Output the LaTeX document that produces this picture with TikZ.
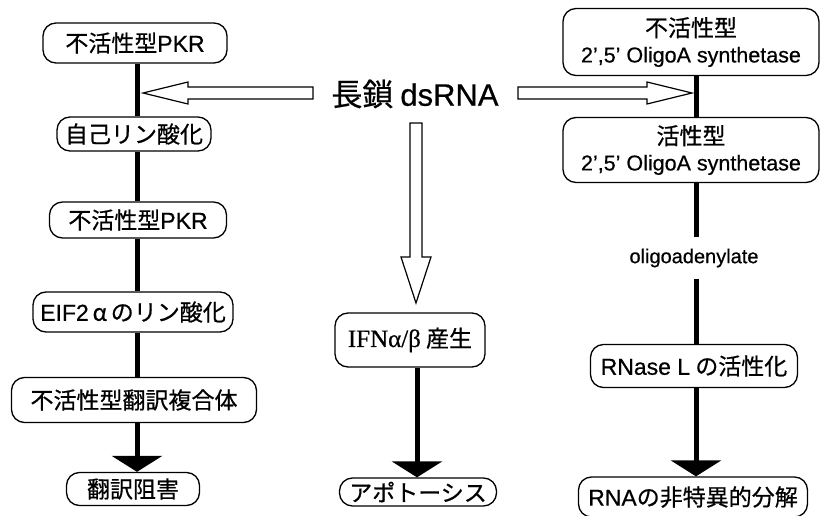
\documentclass[tikz,border=0pt]{standalone}
\usepackage{fontspec}
\setmainfont{Noto Sans CJK JP}[FakeBold=0.6]
\newfontfamily\serifgr{Liberation Serif}[FakeBold=0.6]
\newfontfamily\lat{Liberation Sans}[FakeBold=0.6]
\usetikzlibrary{arrows.meta}
\begin{document}
\begin{tikzpicture}[x=1pt,y=-1pt,
  box/.style={draw,line width=1.3pt,rounded corners=13pt,inner sep=0pt,align=center,
    font=\fontsize{23pt}{26pt}\selectfont},
  flow/.style={line width=5pt},
  flowend/.style={line width=5pt,-{Triangle[width=50pt,length=16pt]}},
  hollow/.style={draw,line width=1.2pt,fill=white,line join=miter}]
\useasboundingbox (0,0) rectangle (820,516);

% left column
\node[box,minimum width=184pt,minimum height=40pt] (pkr1) at (135,43) {不活性型{\lat PKR}};
\node[box,minimum width=154pt,minimum height=34pt] (auto) at (134,134) {自己リン酸化};
\node[box,minimum width=177pt,minimum height=36pt] (pkr2) at (138,220) {不活性型{\lat PKR}};
\node[box,minimum width=200pt,minimum height=40pt] (eif) at (133,312) {{\lat EIF2}\,α\,のリン酸化};
\node[box,minimum width=245pt,minimum height=45pt] (cplx) at (134,400) {不活性型翻訳複合体};
\node[box,minimum width=133pt,minimum height=33pt] (inhib) at (133,489) {翻訳阻害};
\coordinate (ls) at (137,0);
\draw[flow] (pkr1.south -| ls) -- (auto.north -| ls);
\draw[flow] (auto.south -| ls) -- (pkr2.north -| ls);
\draw[flow] (pkr2.south -| ls) -- (eif.north -| ls);
\draw[flow] (eif.south -| ls) -- (cplx.north -| ls);
\draw[flowend] (cplx.south -| ls) -- (inhib.north -| ls);

% centre
\node[font=\fontsize{31pt}{34pt}\selectfont,inner sep=0pt] (ds) at (415,94) {長鎖 {\lat dsRNA}};
\node[box,minimum width=150pt,minimum height=54pt] (ifn) at (410,340) {{\serifgr\fontsize{25pt}{28pt}\selectfont IFNα/β} 産生};
\node[box,minimum width=157pt,minimum height=28pt] (apop) at (418,492) {アポトーシス};
\coordinate (ms) at (417,0);
\draw[flowend] (ifn.south -| ms) -- (apop.north -| ms);

% right column
\node[box,minimum width=256pt,minimum height=67pt] (syn1) at (691,42)
  {不活性型\\[0pt]{\lat\fontsize{21.5pt}{23pt}\selectfont 2’,5’ OligoA synthetase}};
\node[box,minimum width=256pt,minimum height=65pt] (syn2) at (691,150)
  {活性型\\[0pt]{\lat\fontsize{21.5pt}{23pt}\selectfont 2’,5’ OligoA synthetase}};
\node[font=\lat\fontsize{20pt}{22pt}\selectfont,inner sep=0pt,minimum height=41pt] (olig) at (694,258) {oligoadenylate};
\node[box,minimum width=207pt,minimum height=43pt] (rnase) at (694,366) {{\lat RNase L} の活性化};
\node[box,minimum width=229pt,minimum height=40pt] (deg) at (693,497) {{\lat RNA}の非特異的分解};
\coordinate (rs) at (696,0);
\draw[flow] (syn1.south -| rs) -- (syn2.north -| rs);
\draw[flow] (syn2.south -| rs) -- (olig.north -| rs);
\draw[flow] (olig.south -| rs) -- (rnase.north -| rs);
\draw[flowend] (rnase.south -| rs) -- (deg.north -| rs);

% hollow arrows from dsRNA
\coordinate (lt) at (143,93);
\coordinate (rt) at (692,93);
\coordinate (dt) at (416,303);
\draw[hollow] (313,87) -- (188,87) -- (188,82) -- (lt) -- (188,104) -- (188,99) -- (313,99) -- cycle;
\draw[hollow] (518,87) -- (647,87) -- (647,82) -- (rt) -- (647,104) -- (647,99) -- (518,99) -- cycle;
\draw[hollow] (410,123) -- (410,257) -- (401,257) -- (dt) -- (431,257) -- (422,257) -- (422,123) -- cycle;
\end{tikzpicture}
\end{document}
